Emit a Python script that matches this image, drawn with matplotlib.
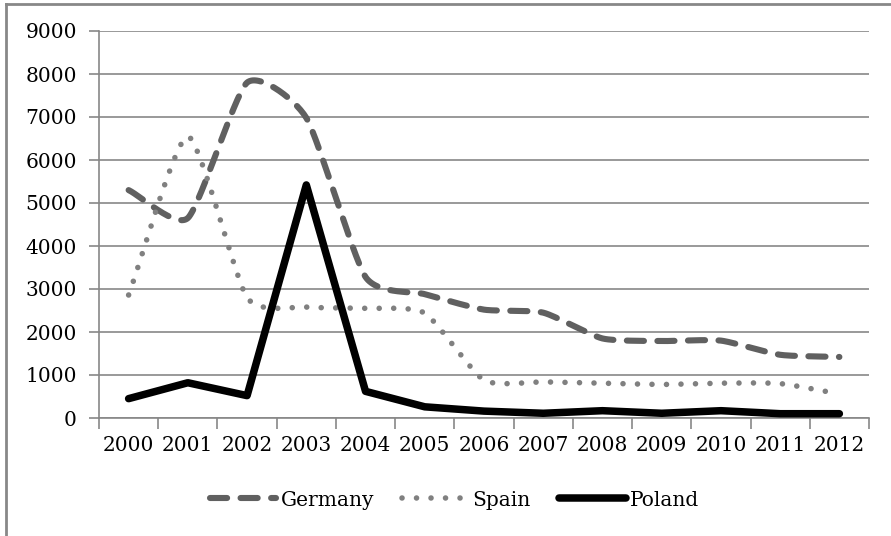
import numpy as np
import matplotlib
matplotlib.use("Agg")
import matplotlib.pyplot as plt
from matplotlib.lines import Line2D

plt.rcParams['font.family'] = ['DejaVu Serif']

years = ["2000", "2001", "2002", "2003", "2004", "2005", "2006",
         "2007", "2008", "2009", "2010", "2011", "2012"]
germany = [5300, 4650, 7800, 6980, 3280, 2880, 2520, 2450, 1850, 1790, 1800, 1470, 1420]
spain = [2860, 6550, 2800, 2580, 2550, 2440, 880, 840, 810, 780, 810, 800, 560]
poland = [450, 820, 520, 5420, 620, 260, 160, 110, 170, 110, 170, 100, 100]

grid_col = "#878787"


#smooth a series a bit (cardinal spline through the points, low tension)
def smooth(vals, k=0.3, n=30):
	y = np.array(vals, dtype=float)
	x = np.arange(len(y), dtype=float)
	px = np.concatenate([[2*x[0]-x[1]], x, [2*x[-1]-x[-2]]])
	py = np.concatenate([[2*y[0]-y[1]], y, [2*y[-1]-y[-2]]])
	xs, ys = [], []
	t = np.linspace(0, 1, n, endpoint=False)
	h00 = 2*t**3 - 3*t**2 + 1
	h10 = t**3 - 2*t**2 + t
	h01 = -2*t**3 + 3*t**2
	h11 = t**3 - t**2
	for i in range(1, len(px)-2):
		for arr, out in ((px, xs), (py, ys)):
			p0, p1, p2, p3 = arr[i-1], arr[i], arr[i+1], arr[i+2]
			m1 = k*(p2-p0)
			m2 = k*(p3-p1)
			out.extend(h00*p1 + h10*m1 + h01*p2 + h11*m2)
	xs.append(x[-1])
	ys.append(y[-1])
	return xs, ys


fig = plt.figure(figsize=(8.91, 5.36), dpi=100)
ax = fig.add_axes([99/891, 1-418/536, (869-99)/891, (418-31)/536])

gx, gy = smooth(germany)
sx, sy = smooth(spain)
ax.plot(gx, gy, color="#606060", lw=4.4, dashes=(2.8, 2.2), dash_capstyle='round', zorder=3)
ax.plot(sx, sy, color="#808080", lw=4.0, dashes=(0.01, 2.6), dash_capstyle='round', zorder=3)
ax.plot(range(len(poland)), poland, color="black", lw=5.4, solid_capstyle='round', solid_joinstyle='round', zorder=4)

ax.set_xlim(-0.5, len(years)-0.5)
ax.set_ylim(0, 9000)
ax.set_yticks(range(0, 9001, 1000))
ax.set_xticks(range(len(years)))
ax.set_xticklabels(years)
ax.set_xticks(np.arange(-0.5, len(years), 1), minor=True)
ax.tick_params(axis='x', which='major', length=0, pad=13, labelsize=14.5)
ax.tick_params(axis='x', which='minor', length=8, width=1.2, color=grid_col, direction='out')
ax.tick_params(axis='y', length=7, width=1.2, color=grid_col, pad=9, labelsize=14.5)
ax.grid(axis='y', color=grid_col, lw=1.2, zorder=0)
for s in ['top', 'right']:
	ax.spines[s].set_visible(False)
for s in ['left', 'bottom']:
	ax.spines[s].set_color(grid_col)
	ax.spines[s].set_linewidth(1.2)

handles = [
	Line2D([], [], color="#606060", lw=4.4, dashes=(2.8, 2.2), dash_capstyle='round'),
	Line2D([], [], color="#808080", lw=4.0, dashes=(0.01, 2.6), dash_capstyle='round'),
	Line2D([], [], color="black", lw=5.4, solid_capstyle='round'),
]
fig.legend(handles, ["Germany", "Spain", "Poland"], loc='center', bbox_to_anchor=(0.51, 1-500/536),
	ncol=3, frameon=False, fontsize=14.5, handlelength=3.3, handletextpad=0.2, columnspacing=1.4)

#outer frame of the original chart
fig.add_artist(Line2D([6/891, 6/891], [0, 1-4/536], color="#888888", lw=2))
fig.add_artist(Line2D([6/891, 1], [1-4/536, 1-4/536], color="#888888", lw=2))

plt.savefig("out.png", dpi=100)
plt.close()
